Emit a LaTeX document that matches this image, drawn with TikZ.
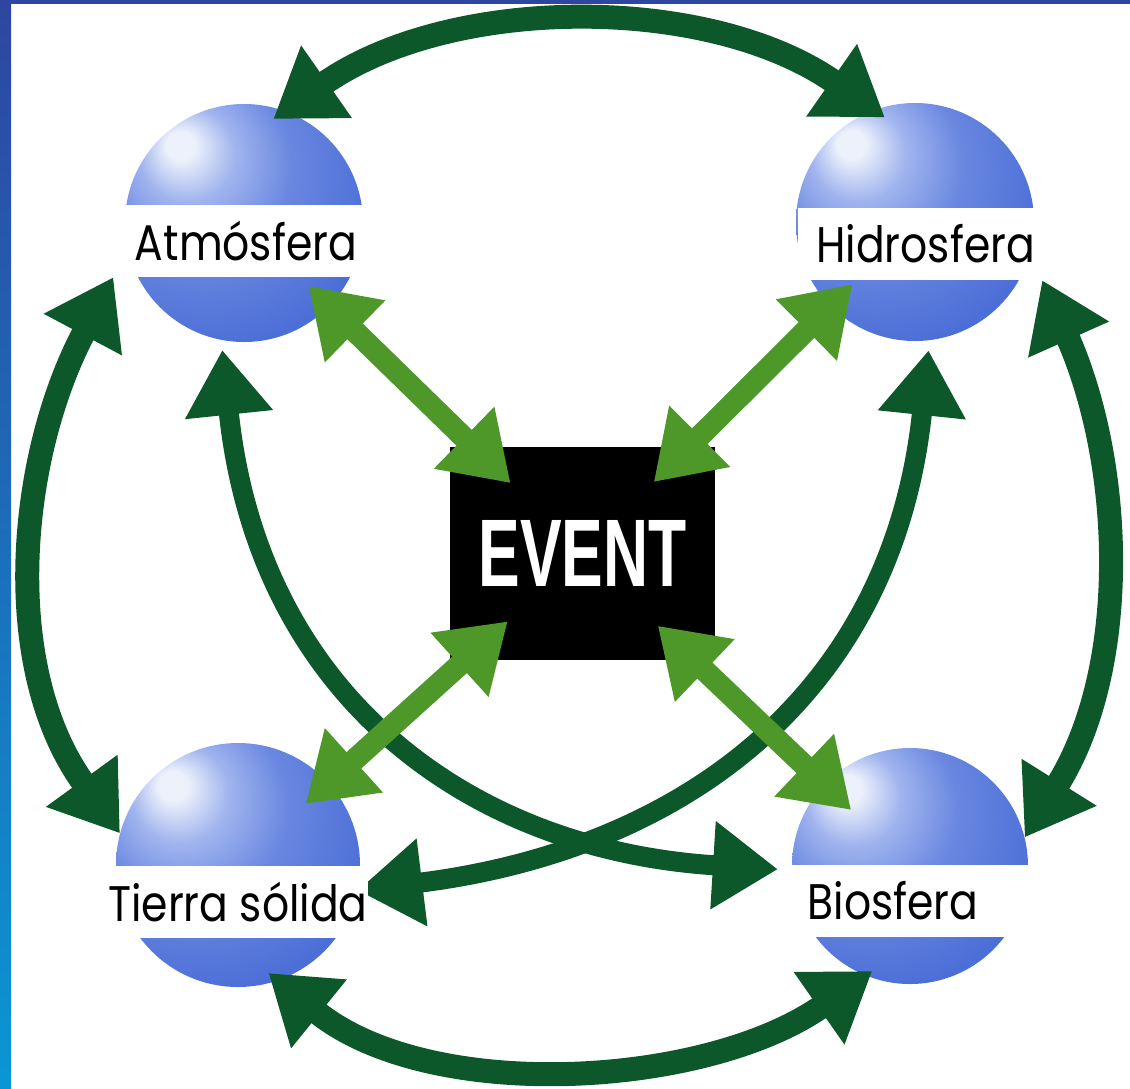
\documentclass[tikz,border=0pt]{standalone}
\usepackage{fontspec}
\usetikzlibrary{arrows.meta}
\newfontfamily\labelfont[FakeStretch=0.85]{Poppins}
\newfontfamily\eventfont[FakeStretch=0.65]{Liberation Sans}

\definecolor{darkarrow}{RGB}{12,88,42}
\definecolor{lightarrow}{RGB}{78,152,42}
\definecolor{frametop}{RGB}{46,70,160}
\definecolor{framebottom}{RGB}{10,150,212}
\definecolor{globeHi}{RGB}{236,241,251}
\definecolor{globeLight}{RGB}{160,180,238}
\definecolor{globeMid}{RGB}{105,135,224}
\definecolor{globeEdge}{RGB}{75,110,215}
\definecolor{globeDeep}{RGB}{50,85,205}
\definecolor{globeDark}{RGB}{28,58,188}

\pgfdeclareradialshading{globeshade}{\pgfqpoint{-14bp}{17bp}}{%
  color(0bp)=(globeHi); color(3bp)=(globeHi); color(10bp)=(globeLight);
  color(20bp)=(globeMid); color(35bp)=(globeEdge); color(50bp)=(globeDeep);
  color(68bp)=(globeDark)}

\pgfdeclarelayer{front}
\pgfsetlayers{main,front}

\tikzset{
  globe/.style={circle, inner sep=0pt, shading=globeshade},
  band/.style={fill=white, minimum height=72pt, inner ysep=0pt,
    font=\labelfont\fontsize{50}{50}\selectfont},
  eventbox/.style={fill=black, text=white, minimum width=265pt, minimum height=213pt,
    font=\eventfont\bfseries\fontsize{96}{96}\selectfont},
  link/.style={line width=24pt, color=darkarrow, >={Triangle[length=65pt,width=84pt]}, <->},
  spoke/.style={line width=22pt, color=lightarrow, >={Triangle[length=65pt,width=82pt]}, <->}
}

\begin{document}
\begin{tikzpicture}[x=1pt, y=1pt]
\useasboundingbox (0,0) rectangle (1130,-1088);

% blue frame
\fill[frametop] (0,0) rectangle (1130,-4);
\shade[top color=frametop, bottom color=framebottom] (0,0) rectangle (11,-1088);

% spheres
\node[globe, minimum size=238pt] (atm) at (244,-223) {};
\node[globe, minimum size=238pt] (hid) at (915,-222) {};
\node[globe, minimum size=244pt] (ter) at (238,-865) {};
\node[globe, minimum size=236pt] (bio) at (910,-866) {};

\node[eventbox] (event) at (582.5,-553.5) {EVENT};

% names
\begin{pgfonlayer}{front}
\node[band, minimum width=265pt] (atmlab) at (246,-241) {Atmósfera};
\node[band, text width=230pt, inner xsep=7pt, align=right] (hidlab) at (920,-244) {Hidrosfera};
\node[band, inner xsep=0pt] (terlab) at (238,-902) {Tierra sólida};
\node[band, text width=207pt, inner xsep=28pt, align=left] (biolab) at (911,-901) {Biosfera};
\end{pgfonlayer}

% outer ring
\draw[link, shorten <=-14pt, shorten >=-13pt] (atm.70) to[out=35, in=145, looseness=0.88] (hid.110);
\draw[link] (atmlab.south west) to[out=242, in=126, looseness=0.94] (ter.165);
\draw[link] (hidlab.south east) to[out=294, in=58, looseness=0.92] (bio.14);
\draw[link, shorten <=-12pt, shorten >=-8pt] (ter.289) to[out=321, in=215, looseness=0.85] (bio.248);

% crossing arcs
\draw[link, line width=20pt, shorten <=10pt, shorten >=14pt]
  (atm.259) .. controls +(37,-356) and +(-322,20) .. (bio.182);
\draw[link, line width=20pt, shorten <=10pt]
  (hid.277) .. controls +(-37,-356) and +(323,40) .. (ter.348);

% spokes to the event
\draw[spoke, shorten <=-29pt, shorten >=-52pt] (atm) -- (event);
\draw[spoke, shorten <=-31pt, shorten >=-50pt] (hid) -- (event);
\draw[spoke, shorten <=-31pt, shorten >=-58pt] (ter) -- (event);
\draw[spoke, shorten <=-37pt, shorten >=-50pt] (bio) -- (event);
\end{tikzpicture}
\end{document}
